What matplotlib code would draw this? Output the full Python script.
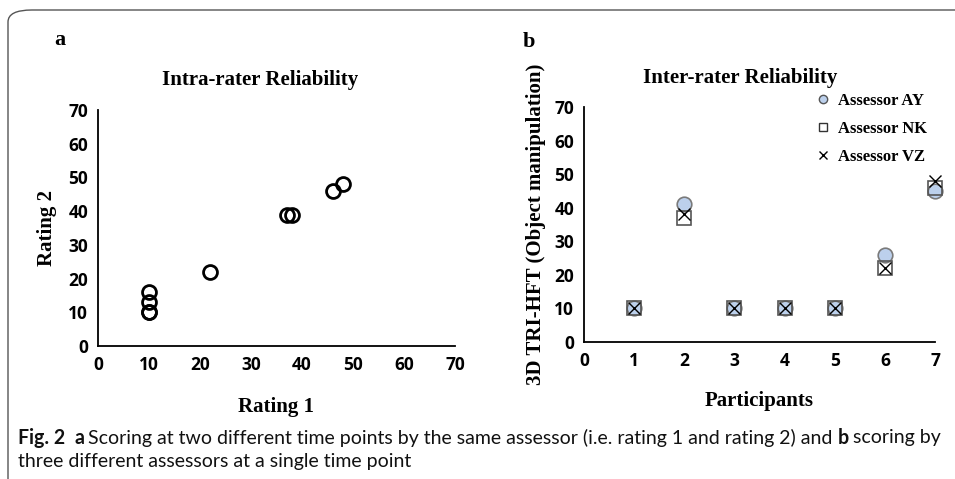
import matplotlib
matplotlib.use("Agg")
import matplotlib.pyplot as plt
from matplotlib.patches import FancyBboxPatch
from matplotlib.lines import Line2D

# panel a: intra-rater
rating1 = [10, 10, 10, 10, 22, 37, 38, 46, 48]
rating2 = [10, 10, 13, 16, 22, 39, 39, 46, 48]

# panel b: inter-rater
participants = [1, 2, 3, 4, 5, 6, 7]
assessor_ay = [10, 41, 10, 10, 10, 26, 45]
assessor_nk = [10, 37, 10, 10, 10, 22, 46]
assessor_vz = [10, 38, 10, 10, 10, 22, 48]

caption_1 = [("Fig. 2", "bold", 9), ("a", "bold", 4),
             ("Scoring at two different time points by the same assessor (i.e. rating 1 and rating 2) and", "normal", 5),
             ("b", "bold", 4), ("scoring by", "normal", 0)]
caption_2 = "three different assessors at a single time point"

W, H = 955, 479
SERIF = "Liberation Serif"
TICKFONT = "Open Sans"
CAPFONT = "Lato"

fig = plt.figure(figsize=(W / 100, H / 100), dpi=100)


def ax_rect(left, top, right, bottom):
    return [left / W, 1 - bottom / H, (right - left) / W, (bottom - top) / H]


def style_axes(ax):
    for s in ["top", "right"]:
        ax.spines[s].set_visible(False)
    for s in ["left", "bottom"]:
        ax.spines[s].set_linewidth(1.3)
        ax.spines[s].set_color("black")
    ax.tick_params(length=0, pad=7)
    for lab in ax.get_xticklabels() + ax.get_yticklabels():
        lab.set_fontfamily(TICKFONT)
        lab.set_fontweight("bold")
        lab.set_fontsize(12.5)


# rounded frame around the figure (only top and left edges fall inside)
frame = FancyBboxPatch((8 / W, -0.2), 1.2, 0.2 + (H - 10) / H,
                       boxstyle="round,pad=0,rounding_size=0.025",
                       transform=fig.transFigure, fill=False,
                       edgecolor="#555555", linewidth=1.0, clip_on=False)
fig.patches.append(frame)

# ---- panel a
ax1 = fig.add_axes(ax_rect(98, 110, 455, 346))
ax1.plot(rating1, rating2, "o", ms=10, mfc="none", mec="black", mew=2)
ax1.set_xlim(0, 70)
ax1.set_ylim(0, 70)
ax1.set_xticks(range(0, 71, 10))
ax1.set_yticks(range(0, 71, 10))
style_axes(ax1)
ax1.set_xlabel("Rating 1", family=SERIF, fontweight="bold", fontsize=15, labelpad=17)
ax1.set_ylabel("Rating 2", family=SERIF, fontweight="bold", fontsize=15, labelpad=8)
fig.text(260 / W, 1 - 80 / H, "Intra-rater Reliability", family=SERIF, fontweight="bold",
         fontsize=15, ha="center", va="center")
fig.text(60 / W, 1 - 40 / H, "a", family=SERIF, fontweight="bold", fontsize=16,
         ha="center", va="center")

# ---- panel b
ax2 = fig.add_axes(ax_rect(584, 107, 935, 342))
ax2.plot(participants, assessor_ay, "o", ms=10.5, mfc="#bcd0ec", mec="#7a7a7a", mew=1.2,
         label="Assessor AY", clip_on=False)
ax2.plot(participants, assessor_nk, "s", ms=10, mfc="none", mec="#555555", mew=1.2,
         label="Assessor NK", clip_on=False)
ax2.plot(participants, assessor_vz, "x", ms=8, mec="black", mew=1.0,
         label="Assessor VZ", clip_on=False)
ax2.set_xlim(0, 7)
ax2.set_ylim(0, 70)
ax2.set_xticks(range(0, 8))
ax2.set_yticks(range(0, 71, 10))
style_axes(ax2)
ax2.set_xlabel("Participants", family=SERIF, fontweight="bold", fontsize=15, labelpad=15)
ax2.set_ylabel("3D TRI-HFT (Object manipulation)", family=SERIF, fontweight="bold",
               fontsize=15, labelpad=6)
fig.text(740 / W, 1 - 78 / H, "Inter-rater Reliability", family=SERIF, fontweight="bold",
         fontsize=15, ha="center", va="center")
fig.text(529 / W, 1 - 42 / H, "b", family=SERIF, fontweight="bold", fontsize=16,
         ha="center", va="center")

handles = [
    Line2D([], [], ls="none", marker="o", ms=6, mfc="#bcd0ec", mec="#555555", mew=1),
    Line2D([], [], ls="none", marker="s", ms=6, mfc="none", mec="#333333", mew=1),
    Line2D([], [], ls="none", marker="x", ms=6, mec="black", mew=1),
]
leg = ax2.legend(handles, ["Assessor AY", "Assessor NK", "Assessor VZ"],
                 loc="upper left", bbox_to_anchor=((810 - 584) / (935 - 584), 1.09),
                 frameon=False, handlelength=0.8, handletextpad=0.45, labelspacing=0.72,
                 borderaxespad=0, prop={"family": SERIF, "weight": "bold", "size": 12})

# ---- caption, sized so line 1 spans from x=18 to x=942
fig.canvas.draw()
r = fig.canvas.get_renderer()


def draw_line1(size):
    made = []
    x = 18
    for text, weight, gap in caption_1:
        t = fig.text(x / W, 1 - 438 / H, text, family=CAPFONT, fontweight=weight,
                     fontsize=size, va="center", color="#111111")
        made.append(t)
        x = t.get_window_extent(r).x1 + gap
    return made, x - caption_1[-1][2]


size = 12
parts, end = draw_line1(size)
for t in parts:
    t.remove()
size = size * (942 - 18) / (end - 18)
draw_line1(size)
fig.text(18 / W, 1 - 461 / H, caption_2, family=CAPFONT, fontsize=size, va="center",
         color="#111111")

fig.savefig("out.png", dpi=100)
